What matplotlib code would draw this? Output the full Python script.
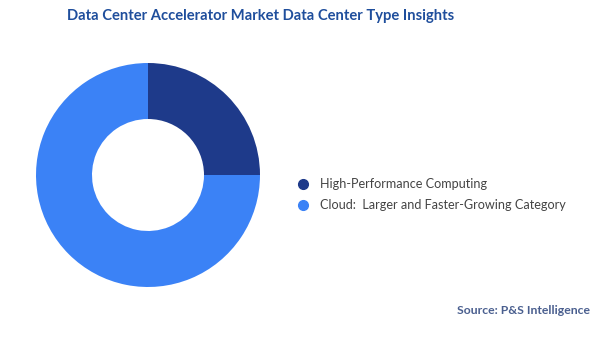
import matplotlib.pyplot as plt
from matplotlib.lines import Line2D

labels = ['High-Performance Computing', 'Cloud:  Larger and Faster-Growing Category']
shares = [25, 75]
colors = ['#1e3a8a', '#3b82f6']

plt.rcParams['font.family'] = ['Lato', 'DejaVu Sans']

fig = plt.figure(figsize=(6, 3.37), dpi=100)
fig.patch.set_facecolor('white')

# pie axes: centre ~ (148, 175) px, radius ~112 px
ax = fig.add_axes([(148 - 112) / 600, (337 - 175 - 112) / 337, 224 / 600, 224 / 337])
ax.pie(shares, colors=colors, startangle=90, counterclock=False,
       wedgeprops=dict(width=0.5, edgecolor='none'), radius=1.0)
ax.set_xlim(-1, 1)
ax.set_ylim(-1, 1)
ax.set_aspect('equal')
ax.axis('off')

fig.text(261 / 600, 1 - 16 / 337, 'Data Center Accelerator Market Data Center Type Insights',
         ha='center', va='center', fontsize=10.6, fontweight='bold', color='#1f4e9c')

ys = [184, 205]
for lab, c, y in zip(labels, colors, ys):
    fig.add_artist(Line2D([303 / 600], [1 - y / 337], marker='o', markersize=7,
                          color=c, linestyle='none', transform=fig.transFigure))
    fig.text(320 / 600, 1 - y / 337, lab, ha='left', va='center', fontsize=9.1, color='#444444')

fig.text(590 / 600, 1 - 311 / 337, 'Source: P&S Intelligence', ha='right', va='center',
         fontsize=8.8, fontweight='bold', color='#4a5f8f')

fig.savefig('out.png', dpi=100, facecolor='white')
